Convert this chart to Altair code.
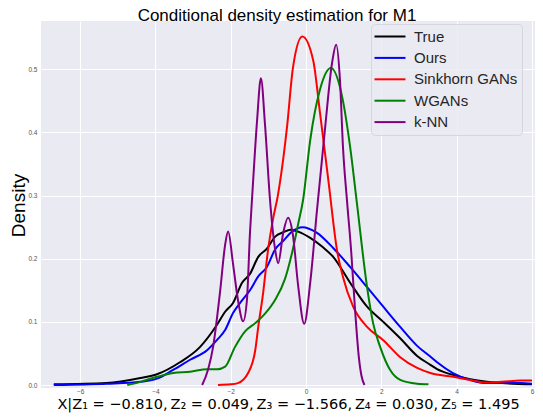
import altair as alt
import pandas as pd

series_names = ["True", "Ours", "Sinkhorn GANs", "WGANs", "k-NN"]
series_colors = ["#000000", "#0000ff", "#ff0000", "#008000", "#800080"]

true_x = [-6.7, -5.3, -4.4, -3.96, -3.35, -2.82, -2.37, -2.15, -1.94, -1.7, -1.49, -1.27, -1.04, -0.82, -0.6, -0.42, -0.21, 0.11, 0.45, 0.72, 1.17, 1.62, 2.05, 2.5, 2.95, 3.3, 3.48, 3.9, 4.36, 4.8, 5.2, 6.0]
true_y = [0.001, 0.003, 0.011, 0.017, 0.036, 0.060, 0.095, 0.116, 0.13, 0.162, 0.176, 0.203, 0.216, 0.235, 0.242, 0.246, 0.243, 0.233, 0.218, 0.203, 0.162, 0.124, 0.100, 0.074, 0.046, 0.032, 0.025, 0.016, 0.009, 0.005, 0.003, 0.001]

ours_x = [-6.7, -5.3, -4.4, -3.96, -3.53, -3.08, -2.63, -2.37, -2.15, -1.94, -1.7, -1.49, -1.27, -1.04, -0.82, -0.61, -0.37, -0.1, 0.29, 0.72, 1.17, 1.62, 2.05, 2.5, 2.95, 3.3, 3.48, 3.9, 4.36, 4.8, 5.7, 6.0]
ours_y = [0.0, 0.002, 0.005, 0.010, 0.024, 0.040, 0.055, 0.071, 0.087, 0.114, 0.134, 0.150, 0.172, 0.187, 0.215, 0.228, 0.243, 0.250, 0.241, 0.217, 0.187, 0.155, 0.124, 0.092, 0.062, 0.045, 0.036, 0.019, 0.008, 0.003, 0.003, 0.002]

sink_x = [-2.34, -2.0, -1.81, -1.54, -1.35, -1.27, -1.14, -1.01, -0.88, -0.75, -0.5, -0.35, -0.1, 0.19, 0.37, 0.6, 0.82, 0.98, 1.25, 1.62, 2.05, 2.5, 2.95, 3.3, 3.9, 4.36, 4.8, 5.2, 5.7, 6.0]
sink_y = [0.0, 0.001, 0.003, 0.019, 0.055, 0.092, 0.146, 0.214, 0.262, 0.300, 0.412, 0.502, 0.552, 0.514, 0.431, 0.320, 0.214, 0.171, 0.124, 0.092, 0.071, 0.044, 0.027, 0.019, 0.013, 0.008, 0.004, 0.005, 0.007, 0.007]

wgan_x = [-4.75, -4.4, -3.96, -3.53, -3.08, -2.63, -2.35, -2.15, -1.89, -1.62, -1.35, -1.09, -0.82, -0.56, -0.37, -0.21, -0.08, 0.11, 0.37, 0.66, 0.96, 1.17, 1.35, 1.62, 1.78, 1.97, 2.23, 2.5, 2.95, 3.25]
wgan_y = [0.0, 0.005, 0.013, 0.019, 0.021, 0.025, 0.025, 0.029, 0.060, 0.085, 0.098, 0.113, 0.135, 0.168, 0.210, 0.255, 0.293, 0.388, 0.468, 0.502, 0.456, 0.377, 0.288, 0.155, 0.098, 0.060, 0.024, 0.008, 0.002, 0.001]

knn_x = [-2.76, -2.6, -2.47, -2.28, -2.15, -2.07, -1.94, -1.81, -1.67, -1.57, -1.49, -1.43, -1.3, -1.2, -1.09, -0.96, -0.82, -0.74, -0.61, -0.48, -0.35, -0.21, -0.05, 0.11, 0.29, 0.5, 0.69, 0.8, 0.9, 0.98, 1.09, 1.2, 1.3, 1.4, 1.47, 1.55]
knn_y = [0.0, 0.025, 0.060, 0.150, 0.222, 0.243, 0.192, 0.135, 0.101, 0.135, 0.241, 0.300, 0.420, 0.486, 0.412, 0.295, 0.214, 0.193, 0.240, 0.265, 0.238, 0.157, 0.097, 0.162, 0.277, 0.404, 0.510, 0.539, 0.483, 0.377, 0.290, 0.210, 0.120, 0.045, 0.015, 0.0]

x_ticks = [-6, -4, -2, 0, 2, 4, 6]
y_ticks = [0.0, 0.1, 0.2, 0.3, 0.4, 0.5]

rows = []
for name, xs, ys in zip(series_names,
                        [true_x, ours_x, sink_x, wgan_x, knn_x],
                        [true_y, ours_y, sink_y, wgan_y, knn_y]):
    for i, (a, b) in enumerate(zip(xs, ys)):
        rows.append({"series": name, "x": a, "y": b, "i": i})
df = pd.DataFrame(rows)

color = alt.Color(
    "series:N",
    scale=alt.Scale(domain=series_names, range=series_colors),
    legend=alt.Legend(
        title=None,
        orient="none",
        legendX=330,
        legendY=3,
        symbolType="M-1.2,0H2.93",
        symbolSize=225,
        symbolStrokeWidth=2,
        symbolFillColor="transparent",
        labelFontSize=15,
        labelFont="Liberation Sans",
        labelColor="#262626",
        labelOffset=22,
        rowPadding=4.4,
        padding=4,
        fillColor="rgba(234,234,242,0.8)",
        strokeColor="#d6d6de",
        cornerRadius=4,
    ),
)

xtitle = "X|Z\u2081 = \u22120.810,\u2009Z\u2082 = 0.049,\u2009Z\u2083 = \u22121.566,\u2009Z\u2084 = 0.030,\u2009Z\u2085 = 1.495"

chart = alt.Chart(df).mark_line(strokeWidth=2, interpolate="monotone").encode(
    x=alt.X("x:Q",
            scale=alt.Scale(domain=[-7.04, 6.08], nice=False, zero=False),
            axis=alt.Axis(values=x_ticks, title=xtitle,
                          titleFont="DejaVu Sans", titleFontSize=14.5, titleFontWeight="normal",
                          titleColor="#000000", titleX=247, titleY=20, titleBaseline="alphabetic",
                          titleAlign="center",
                          labelFontSize=6.5, labelColor="#555555", labelFont="Liberation Sans",
                          labelPadding=0, ticks=False, domain=False,
                          gridColor="#ffffff", gridWidth=1)),
    y=alt.Y("y:Q",
            scale=alt.Scale(domain=[-0.00475, 0.5765], nice=False, zero=False),
            axis=alt.Axis(values=y_ticks, format=".1f", title="Density",
                          titleFont="Liberation Sans", titleFontSize=19, titleFontWeight="normal",
                          titleColor="#000000", titleX=-23, titleY=184, titleAngle=-90,
                          titleBaseline="middle", titleAlign="center",
                          labelFontSize=6.5, labelColor="#555555", labelFont="Liberation Sans",
                          labelPadding=4, ticks=False, domain=False,
                          gridColor="#ffffff", gridWidth=1)),
    color=color,
    order="i:Q",
).properties(
    width=494,
    height=367,
    title=alt.TitleParams("Conditional density estimation for M1", font="Liberation Sans",
                          fontSize=17, fontWeight="normal", color="#000000",
                          anchor="middle", frame="group", baseline="alphabetic",
                          offset=2, dx=-11, dy=18.5),
    autosize=alt.AutoSizeParams(type="none"),
    padding={"left": 33, "top": 13, "right": 0, "bottom": 30},
).configure(
    background="#ffffff"
).configure_view(
    fill="#EAEAF2", stroke=None
)

chart.save("out.html", embed_options={"renderer": "svg", "actions": False})
